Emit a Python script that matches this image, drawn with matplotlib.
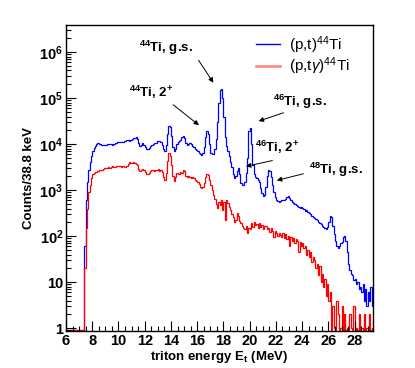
import numpy as np
import matplotlib
matplotlib.use("Agg")
import matplotlib.pyplot as plt
from matplotlib.lines import Line2D
from matplotlib.ticker import FixedLocator, LogLocator, MultipleLocator, NullFormatter

plt.rcParams['font.family'] = ['Liberation Sans', 'DejaVu Sans']
plt.rcParams['mathtext.fontset'] = 'custom'
plt.rcParams['mathtext.rm'] = 'Liberation Sans'
plt.rcParams['mathtext.it'] = 'Liberation Sans:italic'
plt.rcParams['mathtext.bf'] = 'Liberation Sans:bold'

# ---------------- data ----------------
bin_width = 0.1          # MeV
e_min = 6.0              # first bin edge (MeV)

# (p,t)44Ti counts, bins starting at 6.0 MeV
counts_pt = ([0] * 14 + [
    60, 600, 1500, 2800, 4200, 5500, 7000, 8200, 9300, 10000,          # 7.4
    10400, 10300, 10000, 9800, 9600, 9700, 9800, 9900, 10100, 10200,   # 8.4
    10000, 9800, 10000, 10400, 10800, 11000, 11200, 11300, 11100, 11300,  # 9.4
    11600, 12000, 12400, 12200, 12000, 12500, 13000, 13500, 13800, 14000,  # 10.4
    13200, 10500, 9200, 9800, 10500, 9800, 8500, 7900, 7700, 8200,    # 11.4
    9000, 9600, 10000, 10400, 10800, 11500, 12000, 11800, 11000, 9500,  # 12.4
    7800, 7000, 9500, 17000, 25000, 24000, 15000, 8500, 7000, 8000,    # 13.4
    10000, 11000, 11500, 12500, 14000, 15000, 13500, 10500, 9500, 10000,  # 14.4
    10800, 10000, 9200, 8500, 8000, 7600, 7000, 6500, 6000, 5900,      # 15.4
    6400, 8500, 14000, 19500, 17000, 10000, 6500, 6000, 6200, 8000,    # 16.4
    13000, 30000, 80000, 150000, 160000, 100000, 40000, 14000, 9000, 7000,  # 17.4
    5500, 4200, 3200, 2300, 1800, 2000, 2600, 3000, 2200, 1400,        # 18.4
    1300, 1300, 1500, 2400, 5000, 19000, 22000, 10000, 3500, 2200,     # 19.4
    1900, 1800, 1700, 1500, 1100, 850, 750, 800, 1200, 2000,           # 20.4
    2700, 2600, 1900, 1300, 900, 700, 620, 580, 560, 570,              # 21.4
    600, 620, 610, 650, 700, 740, 680, 620, 560, 520,                  # 22.4
    500, 470, 450, 440, 420, 430, 410, 400, 360, 380,                  # 23.4
    340, 320, 300, 280, 260, 250, 240, 220, 200, 190,                  # 24.4
    180, 165, 155, 150, 145, 160, 200, 280, 260, 170,                  # 25.4
    110, 80, 60, 55, 60, 70, 75, 95, 100, 80,                          # 26.4
    45, 25, 18, 15, 14, 11, 12, 9, 10, 7,                              # 27.4
    8, 6, 9, 4, 7, 3, 6, 4, 8, 3,                                      # 28.4
])

# (p,t gamma)44Ti counts, bins starting at 6.0 MeV
counts_ptg = ([0] * 14 + [
    20, 150, 400, 900, 1300, 1800, 2200, 2400, 2450, 2500,             # 7.4
    2600, 2700, 2800, 2750, 2900, 3000, 3100, 3050, 3150, 3100,        # 8.4
    3200, 3300, 3250, 3150, 3300, 3400, 3350, 3300, 3250, 3300,        # 9.4
    3200, 3150, 3300, 3700, 4100, 4000, 3900, 4200, 4000, 3800,        # 10.4
    3500, 2900, 2600, 2800, 2900, 2700, 2500, 2300, 2200, 2400,        # 11.4
    2600, 2800, 2700, 2600, 2800, 2700, 2900, 2600, 2800, 2500,        # 12.4
    1900, 1700, 2400, 4300, 6300, 5500, 3500, 2000, 1600, 1900,        # 13.4
    2400, 2300, 2200, 2500, 2400, 2700, 2600, 2000, 1900, 2000,        # 14.4
    1900, 1800, 1900, 1800, 1700, 1600, 1500, 1350, 1150, 1100,        # 15.4
    1200, 1450, 1900, 2200, 2100, 1700, 1300, 1000, 800, 650,          # 16.4
    500, 420, 550, 480, 620, 380, 560, 230, 600, 520,                  # 17.4
    430, 380, 310, 260, 200, 230, 320, 280, 210, 190,                  # 18.4
    170, 150, 140, 170, 120, 150, 140, 190, 160, 200,                  # 19.4
    175, 180, 150, 190, 160, 175, 145, 165, 170, 140,                  # 20.4
    150, 125, 150, 130, 95, 130, 120, 100, 115, 105,                   # 21.4
    95, 120, 90, 110, 85, 100, 60, 95, 80, 90,                         # 22.4
    70, 85, 80, 45, 75, 60, 70, 55, 60, 40,                            # 23.4
    50, 35, 45, 28, 35, 30, 20, 25, 14, 22,                            # 24.4
    10, 15, 8, 12, 5, 9, 4, 6, 0, 3,                                   # 25.4
    1, 0, 4, 2, 0, 1, 3, 0, 2, 0,                                      # 26.4
    1, 0, 2, 1, 0, 3, 0, 1, 0, 2,                                      # 27.4
    0, 1, 0, 2, 0, 1, 0, 2, 0, 1,                                      # 28.4
])

series_labels = [r"(p,t)$^{44}$Ti", r"(p,t$\gamma$)$^{44}$Ti"]
x_ticks = [6, 8, 10, 12, 14, 16, 18, 20, 22, 24, 26, 28]
y_ticks = [1, 10, 1e2, 1e3, 1e4, 1e5, 1e6]
y_tick_labels = ["1", "10", r"$\mathbf{10^{2}}$", r"$\mathbf{10^{3}}$",
                 r"$\mathbf{10^{4}}$", r"$\mathbf{10^{5}}$", r"$\mathbf{10^{6}}$"]

annotations = [
    (r"$^{\mathbf{44}}$Ti, g.s.", (0.327, 0.925), (0.427, 0.892), (0.485, 0.804)),
    (r"$^{\mathbf{44}}$Ti, 2$^{\mathbf{+}}$", (0.278, 0.781), (0.342, 0.745), (0.440, 0.667)),
    (r"$^{\mathbf{46}}$Ti, g.s.", (0.762, 0.748), (0.717, 0.716), (0.619, 0.683)),
    (r"$^{\mathbf{46}}$Ti, 2$^{\mathbf{+}}$", (0.689, 0.601), (0.681, 0.559), (0.577, 0.536)),
    (r"$^{\mathbf{48}}$Ti, g.s.", (0.879, 0.526), (0.782, 0.516), (0.678, 0.490)),
]

# ---------------- plot ----------------
y_min, y_max = 0.87, 3.9e6
x_max = 29.4

fig = plt.figure(figsize=(4.15, 3.68), dpi=100)
ax = fig.add_axes([66 / 415, 1 - 331 / 368, 307 / 415, 306 / 368])

pt = np.array(counts_pt, dtype=float)
ptg = np.array(counts_ptg, dtype=float)
edges = e_min + bin_width * np.arange(len(pt) + 1)

ax.stairs(np.clip(pt, 0.9, None), edges, color='blue', lw=0.9, baseline=None)
ax.stairs(np.clip(ptg, 0.9, None), edges, color='red', lw=0.9, baseline=None)

ax.set_yscale('log')
ax.set_xlim(e_min, x_max)
ax.set_ylim(y_min, y_max)

ax.xaxis.set_major_locator(FixedLocator(x_ticks))
ax.xaxis.set_minor_locator(MultipleLocator(0.5))
ax.set_xticklabels([str(t) for t in x_ticks], fontweight='bold', fontsize=10.5)
ax.yaxis.set_major_locator(FixedLocator(y_ticks))
ax.set_yticklabels(y_tick_labels, fontweight='bold', fontsize=10.5)
ax.yaxis.set_minor_locator(LogLocator(base=10, subs=np.arange(2, 10), numticks=20))
ax.yaxis.set_minor_formatter(NullFormatter())

ax.tick_params(which='both', direction='in', top=False, right=False)
ax.tick_params(which='major', length=7, width=0.8, pad=2)
ax.tick_params(which='minor', length=3.5, width=0.8)
for s in ax.spines.values():
    s.set_linewidth(1.0)

ax.set_xlabel(r"triton energy E$_{\mathbf{t}}$ (MeV)", fontweight='bold', fontsize=9.5, labelpad=1)
ax.set_ylabel("Counts/38.8 keV", fontweight='bold', fontsize=9.5, labelpad=3)

handles = [Line2D([], [], color='blue', lw=1.0),
           Line2D([], [], color='#ff8080', lw=1.8)]
ax.legend(handles, series_labels, loc='upper right', frameon=False, fontsize=11,
          handlelength=1.6, handletextpad=0.6, labelspacing=0.0,
          bbox_to_anchor=(0.955, 1.0), borderaxespad=0.2)

for text, txy, tail, head in annotations:
    ax.text(txy[0], txy[1], text, transform=ax.transAxes, ha='center', va='center',
            fontsize=9.5, fontweight='bold')
    ax.annotate("", xy=head, xytext=tail, xycoords='axes fraction', textcoords='axes fraction',
                arrowprops=dict(arrowstyle='-|>', color='black', lw=0.7, mutation_scale=7))

fig.savefig("out.png", dpi=100)
